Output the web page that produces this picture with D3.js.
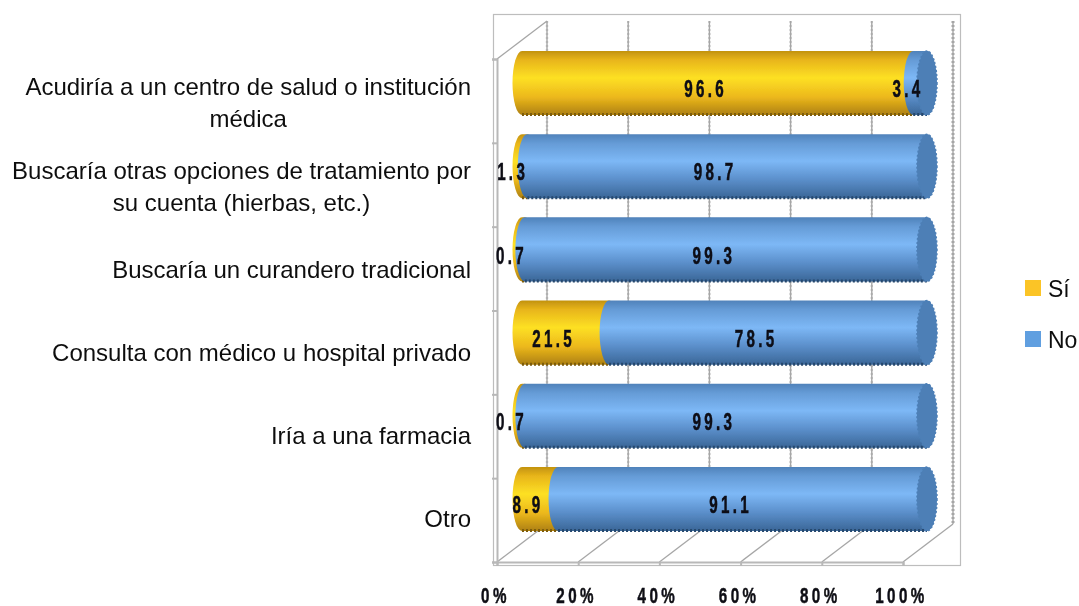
<!DOCTYPE html>
<html>
<head>
<meta charset="utf-8">
<script src="https://cdn.jsdelivr.net/npm/d3@7"></script>
<style>
  html, body { margin: 0; padding: 0; background: #fff; }
  svg { display: block; }
  text { fill: #111; }
  .cat { font-family: "Liberation Sans", Arial, sans-serif; font-size: 24px; }
  .leg { font-family: "Liberation Sans", Arial, sans-serif; font-size: 23px; }
  .num { font-family: "Liberation Sans Narrow", "Liberation Sans", sans-serif; font-size: 23px; font-weight: bold; letter-spacing: 5px; fill: #0c0c14; stroke: #0c0c14; stroke-width: 0.5px; }
  .tick-num { font-size: 22px; }
</style>
</head>
<body>
<svg width="1079" height="606"></svg>
<script>
const categories = [
    "Acudiría a un centro de salud o institución\nmédica",
    "Buscaría otras opciones de tratamiento por\nsu cuenta (hierbas, etc.)",
    "Buscaría un curandero tradicional",
    "Consulta con médico u hospital privado",
    "Iría a una farmacia",
    "Otro"
];
const si = [96.6, 1.3, 0.7, 21.5, 0.7, 8.9];
const no = [3.4, 98.7, 99.3, 78.5, 99.3, 91.1];
const seriesNames = ["Sí", "No"];
const tickValues = [0, 20, 40, 60, 80, 100];

let svg = d3.select("svg");
let defs = svg.append("defs");

// the source is a blurry screenshot, so soften everything a little
defs.append("filter").attr("id", "soft")
    .append("feGaussianBlur").attr("stdDeviation", 0.65);

function addGradient(id, stops) {
    let g = defs.append("linearGradient").attr("id", id)
        .attr("x1", 0).attr("x2", 0).attr("y1", 0).attr("y2", 1);
    stops.forEach(function(s) {
        g.append("stop").attr("offset", s[0]).attr("stop-color", s[1]);
    });
}
addGradient("grad-si", [[0, "#c2920f"], [0.14, "#e8b51a"], [0.42, "#fde024"], [0.72, "#ecb81c"], [1, "#ad8010"]]);
addGradient("grad-no", [[0, "#4f82ba"], [0.14, "#659bd6"], [0.42, "#7db8f6"], [0.7, "#5c90cc"], [1, "#3a6697"]]);

const fills = { "Sí": "url(#grad-si)", "No": "url(#grad-no)" };
const edges = { "Sí": "#7d5c08", "No": "#26486e" };
const swatches = { "Sí": "#fbc427", "No": "#609fe0" };

// front plane of the 3d box
let xFront = d3.scaleLinear().domain([0, 100]).range([497, 903]);
let yFront = d3.scaleLinear().domain([0, 6]).range([59, 562]);
// depth offset of the back wall
const depthX = 50, depthY = -38;

// bars sit halfway in the box
let x = d3.scaleLinear().domain([0, 100]).range([522, 927]);
let y = d3.scaleBand().domain(categories).range([41.4, 540.6]).paddingInner(0.23).paddingOuter(0.115);
const capRx = 9.5;

let root = svg.append("g").attr("filter", "url(#soft)");

// outer frame
root.append("rect")
    .attr("x", 493.5).attr("y", 14.5).attr("width", 467).attr("height", 551)
    .attr("fill", "#fff").attr("stroke", "#bdbdbd").attr("stroke-width", 1.2);

let grid = root.append("g").attr("fill", "none").attr("stroke", "#a6a6a6");

// back wall lines
grid.selectAll(".back")
    .data(tickValues)
    .enter().append("line")
    .attr("class", "back")
    .attr("x1", function(d) { return xFront(d) + depthX; })
    .attr("x2", function(d) { return xFront(d) + depthX; })
    .attr("y1", yFront(0) + depthY)
    .attr("y2", yFront(6) + depthY)
    .attr("stroke-width", 1.4);

grid.selectAll(".back-saw")
    .data(tickValues)
    .enter().append("line")
    .attr("class", "back-saw")
    .attr("x1", function(d) { return xFront(d) + depthX; })
    .attr("x2", function(d) { return xFront(d) + depthX; })
    .attr("y1", yFront(0) + depthY)
    .attr("y2", yFront(6) + depthY)
    .attr("stroke-width", function(d) { return d === 100 ? 3 : 2.4; })
    .attr("stroke-dasharray", "2,2")
    .attr("opacity", function(d) { return d === 100 ? 1 : 0.6; });

// floor lines going back from the front axis
grid.selectAll(".floor")
    .data(tickValues)
    .enter().append("line")
    .attr("class", "floor")
    .attr("x1", function(d) { return xFront(d); })
    .attr("x2", function(d) { return xFront(d) + depthX; })
    .attr("y1", yFront(6))
    .attr("y2", yFront(6) + depthY)
    .attr("stroke-width", 1.3);

// top left corner of the side wall
grid.append("line")
    .attr("x1", xFront(0)).attr("y1", yFront(0))
    .attr("x2", xFront(0) + depthX).attr("y2", yFront(0) + depthY)
    .attr("stroke-width", 1.3);

// left axis
let leftAxis = root.append("g")
    .attr("transform", "translate(" + xFront(0) + ",0)")
    .call(d3.axisLeft(yFront).tickValues(d3.range(7)).tickSize(5).tickFormat(""));
leftAxis.selectAll("path, line").attr("stroke", "#b8b8b8").attr("stroke-width", 2);

// bottom axis
let bottomAxis = root.append("g")
    .attr("transform", "translate(0," + yFront(6) + ")")
    .call(d3.axisBottom(xFront).tickValues(tickValues).tickSize(4).tickPadding(21)
        .tickFormat(function(d) { return d + "%"; }));
bottomAxis.selectAll("path, line").attr("stroke", "#b8b8b8").attr("stroke-width", 2);
// squeeze tick labels, the font in the source is very condensed
bottomAxis.selectAll("text")
    .attr("class", "num tick-num")
    .attr("text-anchor", "middle")
    .attr("transform", "translate(-2,0) scale(0.69,1)");

function cylinder(x0, x1, top, bottom) {
    let ry = (bottom - top) / 2;
    return "M" + x0 + "," + top +
        "L" + x1 + "," + top +
        "A" + capRx + "," + ry + " 0 0 1 " + x1 + "," + bottom +
        "L" + x0 + "," + bottom +
        "A" + capRx + "," + ry + " 0 0 1 " + x0 + "," + top + "Z";
}

// stack Sí then No so that No paints over the end of Sí
let rows = categories.map(function(c, i) {
    return { cat: c, "Sí": si[i], "No": no[i] };
});
let stacked = d3.stack().keys(seriesNames)(rows);

let series = root.selectAll(".series")
    .data(stacked)
    .enter().append("g")
    .attr("class", "series");

series.selectAll("path")
    .data(function(s) {
        return s.map(function(d) { return { key: s.key, v0: d[0], v1: d[1], cat: d.data.cat }; });
    })
    .enter().append("path")
    .attr("d", function(d) {
        return cylinder(x(d.v0), x(d.v1), y(d.cat), y(d.cat) + y.bandwidth());
    })
    .attr("fill", function(d) { return fills[d.key]; });

// serrated lower edge of the bars
series.selectAll(".saw")
    .data(function(s) {
        return s.map(function(d) { return { key: s.key, v0: d[0], v1: d[1], cat: d.data.cat }; });
    })
    .enter().append("line")
    .attr("class", "saw")
    .attr("x1", function(d) { return x(d.v0); })
    .attr("x2", function(d) { return x(d.v1); })
    .attr("y1", function(d) { return y(d.cat) + y.bandwidth() - 0.5; })
    .attr("y2", function(d) { return y(d.cat) + y.bandwidth() - 0.5; })
    .attr("stroke", function(d) { return edges[d.key]; })
    .attr("stroke-width", 3)
    .attr("stroke-dasharray", "2,2");

// end caps
root.selectAll(".cap")
    .data(categories)
    .enter().append("ellipse")
    .attr("class", "cap")
    .attr("cx", x(100))
    .attr("cy", function(d) { return y(d) + y.bandwidth() / 2; })
    .attr("rx", capRx + 0.5)
    .attr("ry", y.bandwidth() / 2)
    .attr("fill", "#4d7fb6")
    .attr("stroke", "#4d7fb6")
    .attr("stroke-width", 1.5)
    .attr("stroke-dasharray", "2,2");

// value labels
let labels = root.selectAll(".value-group")
    .data(stacked)
    .enter().append("g")
    .attr("class", "value-group");

labels.selectAll("text")
    .data(function(s) {
        return s.map(function(d) { return { v0: d[0], v1: d[1], cat: d.data.cat, val: d.data[s.key] }; });
    })
    .enter().append("text")
    .attr("class", "num")
    .attr("text-anchor", "middle")
    .attr("dy", "0.36em")
    .attr("transform", function(d) {
        let cx = (x(d.v0) + x(d.v1)) / 2 - 12;
        let cy = y(d.cat) + y.bandwidth() / 2 + 6;
        return "translate(" + cx + "," + cy + ") scale(0.66,1)";
    })
    .text(function(d) { return d.val.toFixed(1); });

// category labels, centred on their own block and right aligned as a block
let catGroups = root.selectAll(".cat-group")
    .data(categories)
    .enter().append("g")
    .attr("class", "cat-group")
    .attr("transform", function(d) {
        return "translate(0," + (y(d) + y.bandwidth() / 2 + 20) + ")";
    });

catGroups.each(function(d) {
    let lines = d.split("\n");
    let g = d3.select(this);
    let tx = g.selectAll("text")
        .data(lines)
        .enter().append("text")
        .attr("class", "cat")
        .attr("y", function(l, i) { return (i - (lines.length - 1) / 2) * 32; })
        .attr("dy", "0.35em")
        .text(function(l) { return l; });
    let widest = d3.max(tx.nodes(), function(n) { return n.getComputedTextLength(); });
    tx.attr("x", 471 - widest / 2).attr("text-anchor", "middle");
});

// legend
let legend = root.selectAll(".leg-row")
    .data(seriesNames)
    .enter().append("g")
    .attr("class", "leg-row")
    .attr("transform", function(d, i) { return "translate(1025," + (280 + i * 51) + ")"; });

legend.append("rect")
    .attr("width", 16).attr("height", 16)
    .attr("fill", function(d) { return swatches[d]; });

legend.append("text")
    .attr("class", "leg")
    .attr("x", 23).attr("y", 9)
    .attr("dy", "0.35em")
    .text(function(d) { return d; });
</script>
</body>
</html>
